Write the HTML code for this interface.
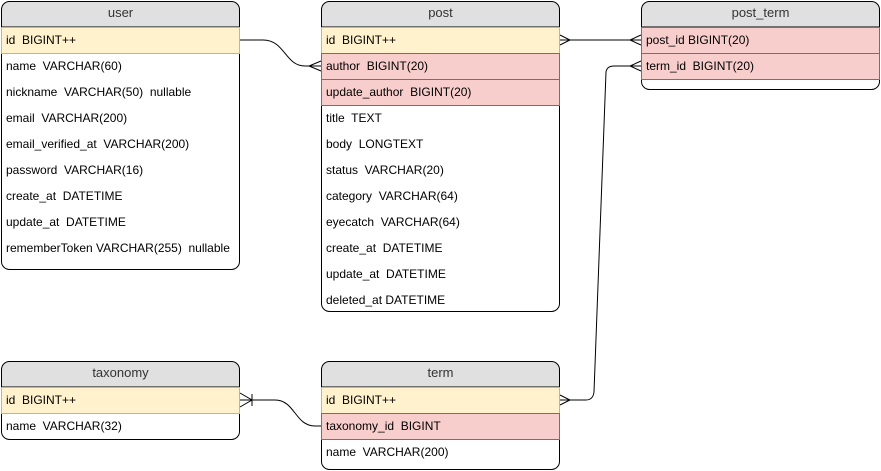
<!DOCTYPE html>
<html><head><meta charset="utf-8"><style>
body{margin:0;background:#fff;}
svg{display:block;font-family:"Liberation Sans",Arial,sans-serif;font-size:12px;}
text{white-space:pre;}
</style></head><body>
<svg width="881" height="471" xmlns="http://www.w3.org/2000/svg" xml:space="preserve">
<!-- user -->
<g>
<path d="M1.5,27 V9.5 a8,8 0 0 1 8,-8 H231.5 a8,8 0 0 1 8,8 V27 Z" fill="#e0e0e0" stroke="#000"/>
<path d="M1.5,27 V261.5 a8,8 0 0 0 8,8 H231.5 a8,8 0 0 0 8,-8 V27" fill="#fff" stroke="#000"/>
<rect x="1.5" y="27.5" width="238" height="26" fill="#fff2cc" stroke="#d6b656"/>
<text x="120.5" y="17" text-anchor="middle" font-size="13" fill="#333">user</text>
<text x="6" y="44">id  BIGINT++</text>
<text x="6" y="70">name  VARCHAR(60)</text>
<text x="6" y="96">nickname  VARCHAR(50)  nullable</text>
<text x="6" y="122">email  VARCHAR(200)</text>
<text x="6" y="148">email_verified_at  VARCHAR(200)</text>
<text x="6" y="174">password  VARCHAR(16)</text>
<text x="6" y="200">create_at  DATETIME</text>
<text x="6" y="226">update_at  DATETIME</text>
<text x="6" y="252">rememberToken VARCHAR(255)  nullable</text>
</g>
<!-- post -->
<g>
<path d="M321.5,27 V9.5 a8,8 0 0 1 8,-8 H551.5 a8,8 0 0 1 8,8 V27 Z" fill="#e0e0e0" stroke="#000"/>
<path d="M321.5,27 V303.5 a8,8 0 0 0 8,8 H551.5 a8,8 0 0 0 8,-8 V27" fill="#fff" stroke="#000"/>
<rect x="321.5" y="27.5" width="238" height="26" fill="#fff2cc" stroke="#d6b656"/>
<rect x="321.5" y="53.5" width="238" height="26" fill="#f8cecc" stroke="#b85450"/>
<rect x="321.5" y="79.5" width="238" height="26" fill="#f8cecc" stroke="#b85450"/>
<text x="440.5" y="17" text-anchor="middle" font-size="13" fill="#333">post</text>
<text x="326" y="44">id  BIGINT++</text>
<text x="326" y="70">author  BIGINT(20)</text>
<text x="326" y="96">update_author  BIGINT(20)</text>
<text x="326" y="122">title  TEXT</text>
<text x="326" y="148">body  LONGTEXT</text>
<text x="326" y="174">status  VARCHAR(20)</text>
<text x="326" y="200">category  VARCHAR(64)</text>
<text x="326" y="226">eyecatch  VARCHAR(64)</text>
<text x="326" y="252">create_at  DATETIME</text>
<text x="326" y="278">update_at  DATETIME</text>
<text x="326" y="304">deleted_at DATETIME</text>
</g>
<!-- post_term -->
<g>
<path d="M641.5,27 V9.5 a8,8 0 0 1 8,-8 H871.5 a8,8 0 0 1 8,8 V27 Z" fill="#e0e0e0" stroke="#000"/>
<path d="M641.5,27 V81.5 a8,8 0 0 0 8,8 H871.5 a8,8 0 0 0 8,-8 V27" fill="#fff" stroke="#000"/>
<rect x="641.5" y="27.5" width="238" height="26" fill="#f8cecc" stroke="#b85450"/>
<rect x="641.5" y="53.5" width="238" height="26" fill="#f8cecc" stroke="#b85450"/>
<text x="760.5" y="17" text-anchor="middle" font-size="13" fill="#333">post_term</text>
<text x="646" y="44">post_id BIGINT(20)</text>
<text x="646" y="70">term_id  BIGINT(20)</text>
</g>
<!-- taxonomy -->
<g>
<path d="M1.5,387 V369.5 a8,8 0 0 1 8,-8 H231.5 a8,8 0 0 1 8,8 V387 Z" fill="#e0e0e0" stroke="#000"/>
<path d="M1.5,387 V431.5 a8,8 0 0 0 8,8 H231.5 a8,8 0 0 0 8,-8 V387" fill="#fff" stroke="#000"/>
<rect x="1.5" y="387.5" width="238" height="26" fill="#fff2cc" stroke="#d6b656"/>
<text x="120.5" y="377" text-anchor="middle" font-size="13" fill="#333">taxonomy</text>
<text x="6" y="404">id  BIGINT++</text>
<text x="6" y="430">name  VARCHAR(32)</text>
</g>
<!-- term -->
<g>
<path d="M321.5,387 V369.5 a8,8 0 0 1 8,-8 H551.5 a8,8 0 0 1 8,8 V387 Z" fill="#e0e0e0" stroke="#000"/>
<path d="M321.5,387 V461.5 a8,8 0 0 0 8,8 H551.5 a8,8 0 0 0 8,-8 V387" fill="#fff" stroke="#000"/>
<rect x="321.5" y="387.5" width="238" height="26" fill="#fff2cc" stroke="#d6b656"/>
<rect x="321.5" y="413.5" width="238" height="26" fill="#f8cecc" stroke="#b85450"/>
<text x="440.5" y="377" text-anchor="middle" font-size="13" fill="#333">term</text>
<text x="326" y="404">id  BIGINT++</text>
<text x="326" y="430">taxonomy_id  BIGINT</text>
<text x="326" y="456">name  VARCHAR(200)</text>
</g>
<!-- connectors -->
<g fill="none" stroke="#000" stroke-width="1">
<path d="M240,40 H263 C285,40 285,66 305,66 H321"/>
<path d="M321,61 L309,66 L321,71"/>
<path d="M560,40 H641"/>
<path d="M560,35 L570,40 L560,45"/>
<path d="M641,35 L630,40 L641,45"/>
<path d="M560,400 H586 Q593,400 594,392 L606,72 Q607,66 614,66 H641"/>
<path d="M560,395 L570,400 L560,405"/>
<path d="M641,61 L630,66 L641,71"/>
<path d="M240,400 H275 C295,400 295,426 315,426 H321"/>
<path d="M240,393 L252,400 L240,407"/>
<path d="M252,394 V406"/>
</g>
</svg>
</body></html>
